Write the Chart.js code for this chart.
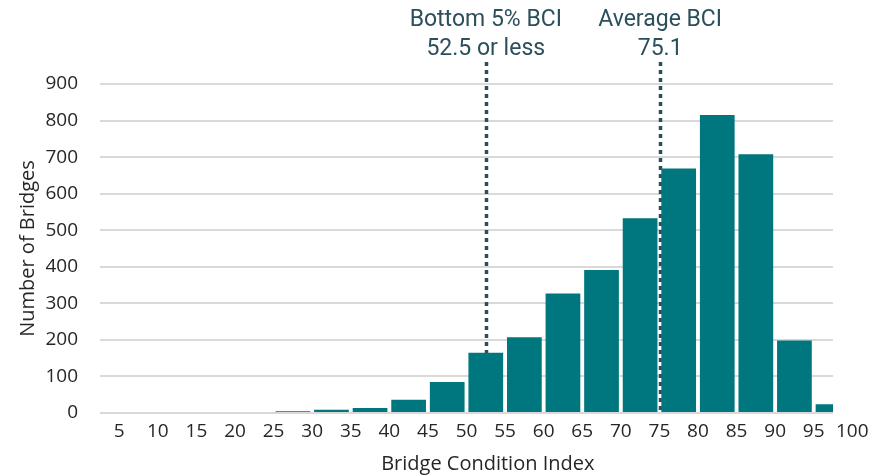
<!DOCTYPE html>
<html>
<head>
<meta charset="utf-8">
<script src="https://cdn.jsdelivr.net/npm/chart.js@4"></script>
<style>
html,body{margin:0;padding:0;background:#fff;}
#wrap{width:887px;height:476px;position:relative;}
</style>
</head>
<body>
<div id="wrap"><canvas id="c"></canvas></div>
<script>
// Bin starts (BCI) and number of bridges per 5-point bin
const binStarts = [5, 10, 15, 20, 25, 30, 35, 40, 45, 50, 55, 60, 65, 70, 75, 80, 85, 90, 95];
const bridgeCounts = [0, 0, 0, 0, 5, 9, 14, 36, 85, 165, 207, 327, 391, 533, 669, 815, 708, 198, 24];
const binWidth = 5;
const xTickLabels = [5, 10, 15, 20, 25, 30, 35, 40, 45, 50, 55, 60, 65, 70, 75, 80, 85, 90, 95, 100];
const yTicks = [0, 100, 200, 300, 400, 500, 600, 700, 800, 900];
const markerValues = [52.5, 75.1];
const markerLabels = [["Bottom 5% BCI", "52.5 or less"], ["Average BCI", "75.1"]];
const xTitle = 'Bridge Condition Index';
const yTitle = 'Number of Bridges';

const barColor = '#00767e';
const markerColor = '#2b4f5c';
const textColor = '#262626';

const markerPlugin = {
  id: 'markers',
  beforeDatasetsDraw(chart) {
    const ctx = chart.ctx;
    const xs = chart.scales.x, ys = chart.scales.y;
    ctx.save();
    markerValues.forEach((v) => {
      const px = Math.round(xs.getPixelForValue(v)) + 0.5;
      ctx.strokeStyle = markerColor;
      ctx.lineWidth = 3.5;
      ctx.setLineDash([4, 4]);
      ctx.beginPath();
      ctx.moveTo(px, 62);
      ctx.lineTo(px, ys.getPixelForValue(0));
      ctx.stroke();
    });
    ctx.restore();
  },
  afterDraw(chart) {
    const ctx = chart.ctx;
    const xs = chart.scales.x;
    ctx.save();
    ctx.fillStyle = markerColor;
    ctx.font = '23px Roboto';
    ctx.textAlign = 'center';
    ctx.textBaseline = 'alphabetic';
    markerValues.forEach((v, i) => {
      const px = xs.getPixelForValue(v);
      markerLabels[i].forEach((t, j) => {
        ctx.fillText(t, px, 26 + j * 29);
      });
    });
    // x axis title, centred under the tick labels span (5 .. 100)
    ctx.fillStyle = textColor;
    ctx.font = '20px "Open Sans"';
    ctx.textBaseline = 'middle';
    const cx = (xs.getPixelForValue(xTickLabels[0]) + xs.getPixelForValue(xTickLabels[xTickLabels.length - 1])) / 2;
    ctx.fillText(xTitle, cx + 2, 464);
    ctx.restore();
  }
};

new Chart(document.getElementById('c'), {
  type: 'bar',
  data: {
    datasets: [{
      data: binStarts.map((s, i) => ({ x: s + binWidth / 2, y: bridgeCounts[i] })),
      backgroundColor: barColor,
      borderWidth: 0,
      barPercentage: 0.9,
      categoryPercentage: 1.0
    }]
  },
  options: {
    responsive: true,
    maintainAspectRatio: false,
    animation: false,
    layout: { padding: { top: 84, right: 54, left: 16, bottom: 0 } },
    plugins: { legend: { display: false }, tooltip: { enabled: false } },
    scales: {
      x: {
        type: 'linear',
        offset: false,
        min: 2.5,
        max: 97.5,
        afterBuildTicks(scale) { scale.ticks = xTickLabels.map(v => ({ value: v })); },
        afterFit(scale) { scale.height = 63; },
        grid: { display: false, drawTicks: false },
        border: { display: false },
        ticks: { color: textColor, font: { family: 'Open Sans', size: 19 }, padding: 7, maxRotation: 0, autoSkip: false },
        title: { display: false }
      },
      y: {
        min: 0,
        max: 900,
        afterBuildTicks(scale) { scale.ticks = yTicks.map(v => ({ value: v })); },
        afterFit(scale) { scale.width = 84; },
        grid: { color: '#d9d9d9', lineWidth: 2, drawTicks: false },
        border: { display: false },
        ticks: { color: textColor, font: { family: 'Open Sans', size: 19 }, padding: 22 },
        title: { display: true, text: yTitle, color: textColor, font: { family: 'Open Sans', size: 20 }, padding: { top: 0, bottom: 4 } }
      }
    }
  },
  plugins: [markerPlugin]
});
</script>
</body>
</html>
